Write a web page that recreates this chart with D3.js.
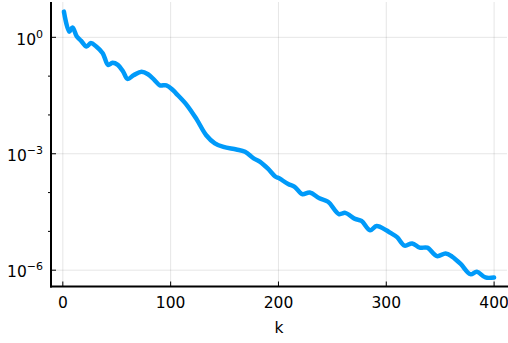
<!DOCTYPE html>
<html>
<head>
<meta charset="utf-8">
<script src="https://cdn.jsdelivr.net/npm/d3@7"></script>
<style>
  body { margin: 0; background: #fff; }
  text { font-family: "DejaVu Sans", sans-serif; fill: #000; }
</style>
</head>
<body>
<svg id="chart" width="508" height="343"></svg>
<script>
// iteration index and error
const ks = [1, 6, 9, 13, 17, 22, 26, 31, 37, 42, 46, 51, 56, 60, 66, 73, 79, 85, 90, 96,
  102, 105, 115, 124, 133, 141, 149, 161, 169, 177, 183, 190, 197, 201, 209, 215, 222, 229,
  238, 246, 256, 262, 271, 277, 285, 291, 300, 304, 310, 317, 324, 331, 338, 347, 355, 361,
  369, 378, 384, 392, 400];
const errs = [4.6, 1.4, 1.8, 1.05, 0.81, 0.58, 0.71, 0.58, 0.39, 0.195, 0.22, 0.195, 0.13,
  0.085, 0.107, 0.13, 0.112, 0.079, 0.058, 0.058, 0.044, 0.036, 0.018, 7.8e-3, 3.0e-3,
  1.86e-3, 1.5e-3, 1.29e-3, 1.12e-3, 7.6e-4, 6.2e-4, 4.2e-4, 2.6e-4, 2.3e-4, 1.66e-4,
  1.41e-4, 9.1e-5, 1.0e-4, 7.1e-5, 5.8e-5, 2.8e-5, 3.0e-5, 2.1e-5, 1.86e-5, 1.07e-5,
  1.38e-5, 1.07e-5, 9.1e-6, 7.1e-6, 4.3e-6, 4.9e-6, 3.8e-6, 3.8e-6, 2.3e-6, 2.7e-6,
  2.24e-6, 1.45e-6, 7.9e-7, 9.1e-7, 6.5e-7, 6.5e-7];

const xTicks = [0, 100, 200, 300, 400];
const yMajor = [0, -3, -6];          // exponents
const yMinor = [-1, -2, -4, -5];

const LEFT = 51, RIGHT = 507, TOP = 2, BOTTOM = 286.5;

const svg = d3.select("#chart");

const x = d3.scaleLinear().domain([-10.97, 411.97]).range([LEFT, RIGHT]);
const y = d3.scaleLog().domain([Math.pow(10, -6.42), Math.pow(10, 0.91)]).range([BOTTOM, TOP]);

// grid
svg.append("g").selectAll("line")
  .data(xTicks).enter().append("line")
  .attr("x1", d => x(d)).attr("x2", d => x(d))
  .attr("y1", TOP).attr("y2", BOTTOM)
  .attr("stroke", "#000").attr("stroke-opacity", 0.1).attr("stroke-width", 1);

svg.append("g").selectAll("line")
  .data(yMajor).enter().append("line")
  .attr("x1", LEFT).attr("x2", RIGHT)
  .attr("y1", d => y(Math.pow(10, d))).attr("y2", d => y(Math.pow(10, d)))
  .attr("stroke", "#000").attr("stroke-opacity", 0.1).attr("stroke-width", 1);

// the line
const pts = ks.map((k, i) => [k, errs[i]]);
svg.append("path")
  .datum(pts)
  .attr("d", d3.line()
    .x(d => x(d[0]))
    .y(d => y(d[1]))
    .curve(d3.curveCatmullRom.alpha(0.5)))
  .attr("fill", "none")
  .attr("stroke", "#009af9")
  .attr("stroke-width", 4.5)
  .attr("stroke-linejoin", "round")
  .attr("stroke-linecap", "round");

// spines
svg.append("line")
  .attr("x1", LEFT).attr("x2", LEFT).attr("y1", TOP).attr("y2", BOTTOM + 1)
  .attr("stroke", "#000").attr("stroke-width", 2);
svg.append("line")
  .attr("x1", LEFT - 1).attr("x2", RIGHT + 1).attr("y1", BOTTOM).attr("y2", BOTTOM)
  .attr("stroke", "#000").attr("stroke-width", 2);

// x ticks
svg.append("g").selectAll("line")
  .data(xTicks).enter().append("line")
  .attr("x1", d => x(d)).attr("x2", d => x(d))
  .attr("y1", BOTTOM).attr("y2", BOTTOM - 5)
  .attr("stroke", "#000").attr("stroke-width", 1);

svg.append("g").selectAll("text")
  .data(xTicks).enter().append("text")
  .attr("x", d => x(d)).attr("y", 307.8)
  .attr("text-anchor", "middle")
  .style("font-size", "15.5px")
  .text(d => d);

// y ticks
svg.append("g").selectAll("line")
  .data(yMajor).enter().append("line")
  .attr("x1", LEFT).attr("x2", LEFT + 5)
  .attr("y1", d => y(Math.pow(10, d))).attr("y2", d => y(Math.pow(10, d)))
  .attr("stroke", "#000").attr("stroke-width", 1);

svg.append("g").selectAll("line")
  .data(yMinor).enter().append("line")
  .attr("x1", LEFT - 3).attr("x2", LEFT)
  .attr("y1", d => y(Math.pow(10, d))).attr("y2", d => y(Math.pow(10, d)))
  .attr("stroke", "#000").attr("stroke-width", 1);

const yl = svg.append("g").selectAll("text")
  .data(yMajor).enter().append("text")
  .attr("x", 43).attr("y", d => y(Math.pow(10, d)) + 7.2)
  .attr("text-anchor", "end")
  .style("font-size", "15.5px");
yl.append("tspan").text("10");
yl.append("tspan")
  .attr("dy", -7)
  .style("font-size", "11px")
  .text(d => d === 0 ? "0" : "\u2212" + (-d));

// axis label
svg.append("text")
  .attr("x", (LEFT + RIGHT) / 2).attr("y", 332.7)
  .attr("text-anchor", "middle")
  .style("font-size", "15.5px")
  .text("k");
</script>
</body>
</html>
